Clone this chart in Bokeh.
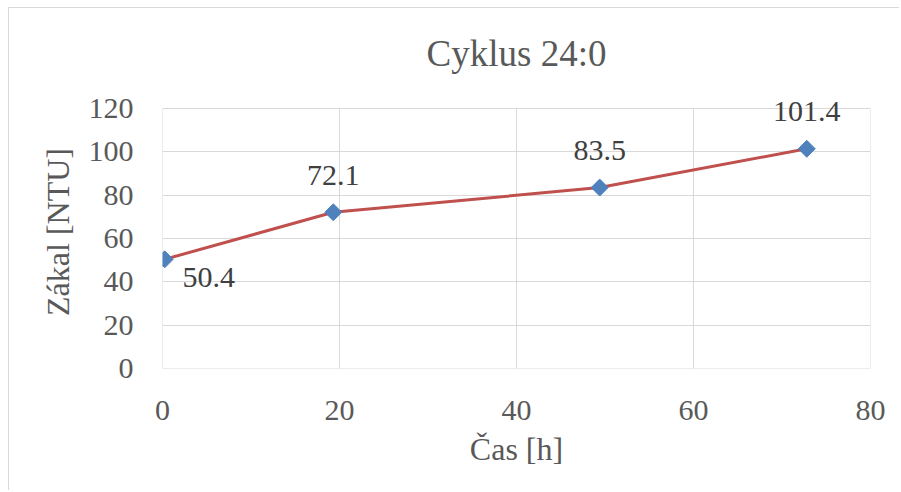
from bokeh.plotting import figure
from bokeh.models import ColumnDataSource, Label, FixedTicker, Range1d
from bokeh.embed import file_html
from bokeh.resources import INLINE
import math

# Data
time_h = [0.25, 19.3, 49.4, 72.8]
turbidity = [50.4, 72.1, 83.5, 101.4]
labels = ["50.4", "72.1", "83.5", "101.4"]
x_ticks = [0, 20, 40, 60, 80]
y_ticks = [0, 20, 40, 60, 80, 100, 120]
x_min, x_max = 0, 80
y_min, y_max = 0, 120

FONT = "'Liberation Serif', 'Liberation Sans', serif"
GRID = "#d9d9d9"
TXT = "#595959"

# label placement (style): first label below-right, others above
lab_dx = [44, 0, 0, 0]
lab_dy = [-18, 37, 37, 37]

src = ColumnDataSource(dict(x=time_h, y=turbidity))

# a little head-room above the plot area so the top data label is not clipped
head = 6
eps = 0.0005
p = figure(width=890, height=482, output_backend="svg", toolbar_location=None,
           x_range=Range1d(x_min - eps, x_max + eps), y_range=Range1d(y_min - eps, y_max + head),
           min_border_left=153, min_border_right=29, min_border_top=87, min_border_bottom=122,
           frame_width=708, frame_height=273)

p.title.text = "Cyklus 24:0"
p.title.text_font = FONT
p.title.text_font_size = "37px"
p.title.text_font_style = "normal"
p.title.text_color = TXT
p.title.align = "center"
p.title.standoff = 44

p.line("x", "y", source=src, line_color="#C0504D", line_width=3)
p.scatter("x", "y", source=src, marker="square", angle=math.pi / 4, size=12,
          fill_color="#4F81BD", line_color="#4F81BD")

for xv, yv, t, dx, dy in zip(time_h, turbidity, labels, lab_dx, lab_dy):
    p.add_layout(Label(x=xv, y=yv, text=t, x_offset=dx, y_offset=dy,
                       text_font=FONT, text_font_size="30px", text_color="#404040",
                       text_align="center", text_baseline="middle"))

for ax in (p.xaxis[0], p.yaxis[0]):
    ax.axis_line_color = None
    ax.major_tick_line_color = None
    ax.minor_tick_line_color = None
    ax.major_label_text_font = FONT
    ax.major_label_text_font_size = "30px"
    ax.major_label_text_color = TXT
    ax.axis_label_text_font = FONT
    ax.axis_label_text_font_size = "32px"
    ax.axis_label_text_font_style = "normal"
    ax.axis_label_text_color = TXT

p.xaxis.ticker = FixedTicker(ticks=x_ticks)
p.yaxis.ticker = FixedTicker(ticks=y_ticks)
p.xaxis.axis_label = "Čas [h]"
p.yaxis.axis_label = "Zákal [NTU]"
p.xaxis.major_label_standoff = 26
p.yaxis.major_label_standoff = 23
p.xaxis.axis_label_standoff = 8
p.yaxis.axis_label_standoff = 10

p.xgrid.grid_line_color = GRID
p.ygrid.grid_line_color = GRID
p.xgrid.cross_bounds = (y_min, y_max)
p.outline_line_color = None
p.background_fill_color = "white"
p.border_fill_color = "white"
p.styles = {"border-top": "1px solid #d9d9d9", "border-left": "1px solid #d9d9d9",
            "margin-left": "8px", "margin-top": "7px"}

open("out.html", "w").write(file_html(p, INLINE))
